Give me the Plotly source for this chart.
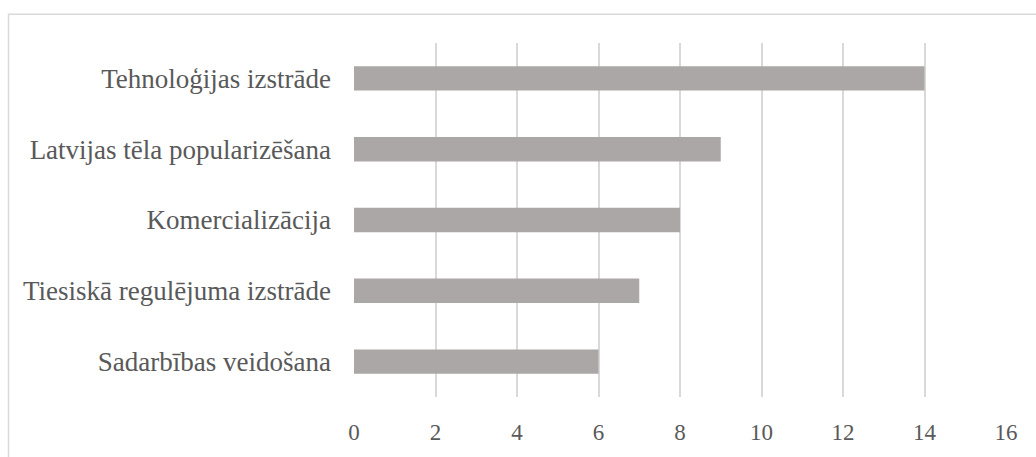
import plotly.graph_objects as go

categories = ["Sadarbības veidošana", "Tiesiskā regulējuma izstrāde", "Komercializācija",
              "Latvijas tēla popularizēšana", "Tehnoloģijas izstrāde"]
values = [6, 7, 8, 9, 14]
x_ticks = [0, 2, 4, 6, 8, 10, 12, 14, 16]

W, H = 1036, 457
L, R, T, B = 354, 30, 43, 50
pw, ph = W - L - R, H - T - B

fig = go.Figure(go.Bar(
    x=values, y=categories, orientation="h",
    marker=dict(color="#aba7a6", line=dict(width=0)),
    width=0.345,
))

cat_font = dict(family="Liberation Serif", size=27, color="#595959")
tick_font = dict(family="Liberation Serif", size=23, color="#595959")

fig.update_layout(
    width=W, height=H,
    margin=dict(l=L, r=R, t=T, b=B),
    paper_bgcolor="white", plot_bgcolor="white",
    font=cat_font,
    showlegend=False,
    xaxis=dict(range=[0, 16], tickvals=x_ticks, showgrid=True, gridcolor="#d9d9d9",
               gridwidth=2, zeroline=False, showline=False, ticks="outside",
               ticklen=0, ticklabelstandoff=14, tickfont=tick_font, fixedrange=True),
    yaxis=dict(showgrid=False, zeroline=False, showline=False, ticks="",
               ticklabelstandoff=22, tickfont=cat_font, fixedrange=True),
    shapes=[dict(type="rect", xref="paper", yref="paper",
                 x0=(8.5 - L) / pw, x1=1.2, y0=-0.3, y1=1 + (T - 13.5) / ph,
                 line=dict(color="#d9d9d9", width=1.5), fillcolor="rgba(0,0,0,0)",
                 layer="below")],
)

fig.write_html("out.html")
